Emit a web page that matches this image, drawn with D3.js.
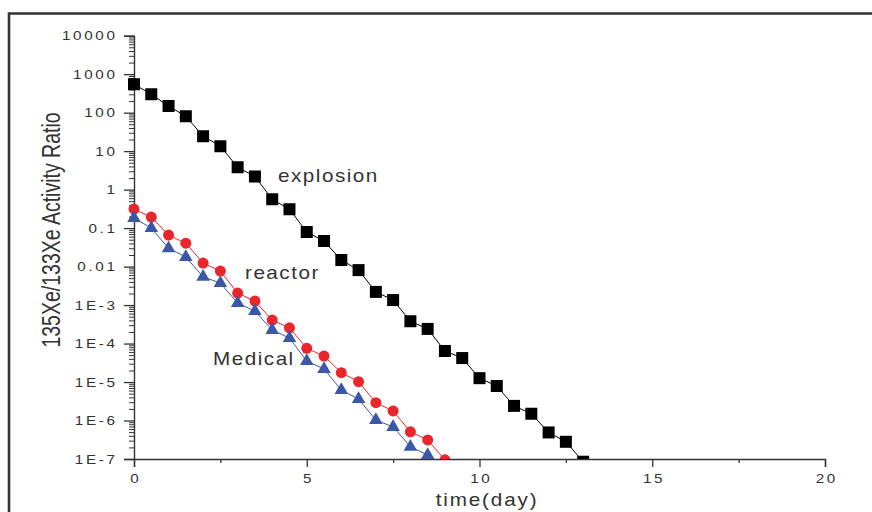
<!DOCTYPE html>
<html><head><meta charset="utf-8">
<script src="https://cdn.jsdelivr.net/npm/d3@7"></script>
<style>
html,body{margin:0;padding:0;background:#fff;}
svg{display:block;}
text{font-family:"Liberation Sans",Arial,sans-serif;fill:#333;}
</style></head>
<body>
<script>
// ---- data ----
const explosionTimes = d3.range(0, 13.01, 0.5);
const explosionValues = [550, 300, 148, 81, 24.5, 13.5, 3.8, 2.2, 0.56, 0.31, 0.079, 0.046, 0.0148, 0.0081, 0.0022, 0.00135, 3.8e-4, 2.4e-4, 6.4e-5, 4.2e-5, 1.26e-5, 7.9e-6, 2.4e-6, 1.5e-6, 4.9e-7, 2.8e-7, 8.5e-8];
const reactorTimes = d3.range(0, 9.01, 0.5);
const reactorValues = [0.312, 0.193, 0.0658, 0.0407, 0.01233, 0.00764, 0.00205, 0.00127, 4.07e-4, 2.57e-4, 7.5e-5, 4.73e-5, 1.75e-5, 1.02e-5, 2.9e-6, 1.77e-6, 5.1e-7, 3.12e-7, 9.5e-8];
const medicalTimes = d3.range(0, 8.51, 0.5);
const medicalValues = [0.182, 0.1, 0.030, 0.0177, 0.00543, 0.00372, 0.00113, 6.98e-4, 2.24e-4, 1.39e-4, 3.5e-5, 2.18e-5, 6.2e-6, 3.6e-6, 1.03e-6, 6.8e-7, 2.08e-7, 1.27e-7];
const yTickValues = [1e4, 1e3, 100, 10, 1, 0.1, 0.01, 1e-3, 1e-4, 1e-5, 1e-6, 1e-7];
const yTickLabels = ["10000", "1000", "100", "10", "1", "0.1", "0.01", "1E-3", "1E-4", "1E-5", "1E-6", "1E-7"];
const xTickValues = [0, 5, 10, 15, 20];
const xTickLabels = ["0", "5", "10", "15", "20"];
const xMinorTicks = [2.5, 7.5, 12.5, 17.5];
const seriesLabels = ["explosion", "reactor", "Medical"];
const xTitle = "time(day)";
const yTitle = "135Xe/133Xe Activity Ratio";

// ---- layout ----
const W = 872, H = 512;
const L = 134, R = 825, T = 35.7, B = 459;
const SX_TICK = 1.22, LS_TICK = 2.2;
const SX_TITLE = 1.15, LS_TITLE = 1.3;

const svg = d3.select("body").append("svg").attr("width", W).attr("height", H);

// frame
svg.append("path").attr("d", `M9,${H+10} V13.5 H${W+10}`)
  .attr("fill", "none").attr("stroke", "#333").attr("stroke-width", 2.6);

const x = d3.scaleLinear().domain([0, 20]).range([L, R]);
const y = d3.scaleLog().domain([1e-7, 1e4]).range([B, T]);

// minor y ticks
const yMinor = [];
for (let e = -7; e < 4; e++) for (let k = 2; k <= 9; k++) yMinor.push(k * Math.pow(10, e));

const axisColor = "#333";
const gyMinor = svg.append("g").attr("transform", `translate(${L},0)`)
  .call(d3.axisLeft(y).tickValues(yMinor).tickSize(5).tickFormat(""));
gyMinor.select(".domain").remove();
gyMinor.selectAll("line").attr("stroke", axisColor).attr("stroke-width", 1);

const gy = svg.append("g").attr("transform", `translate(${L},0)`)
  .call(d3.axisLeft(y).tickValues(yTickValues).tickSize(10).tickPadding(9)
    .tickFormat((d, i) => yTickLabels[i]));
gy.select(".domain").attr("stroke", axisColor).attr("stroke-width", 1.4);
gy.selectAll("line").attr("stroke", axisColor).attr("stroke-width", 1.3);
gy.selectAll("text").attr("font-size", 12.5).attr("fill", "#333")
  .attr("font-family", "Liberation Sans, Arial, sans-serif")
  .attr("letter-spacing", LS_TICK)
  .attr("x", -19 / SX_TICK + LS_TICK).attr("transform", `scale(${SX_TICK},1)`);

const gxMinor = svg.append("g").attr("transform", `translate(0,${B})`)
  .call(d3.axisBottom(x).tickValues(xMinorTicks).tickSize(4).tickFormat(""));
gxMinor.select(".domain").remove();
gxMinor.selectAll("line").attr("stroke", axisColor).attr("stroke-width", 1.3);

const gx = svg.append("g").attr("transform", `translate(0,${B})`)
  .call(d3.axisBottom(x).tickValues(xTickValues).tickSize(8).tickPadding(7)
    .tickFormat((d, i) => xTickLabels[i]));
gx.select(".domain").attr("stroke", axisColor).attr("stroke-width", 1.4);
gx.selectAll("line").attr("stroke", axisColor).attr("stroke-width", 1.3);
gx.selectAll("text").attr("font-size", 12.5).attr("fill", "#333")
  .attr("font-family", "Liberation Sans, Arial, sans-serif")
  .attr("letter-spacing", LS_TICK).attr("x", LS_TICK / 2)
  .attr("transform", `scale(${SX_TICK},1)`);

// clip
svg.append("clipPath").attr("id", "clip").append("rect")
  .attr("x", L - 8).attr("y", T - 10).attr("width", R - L + 16).attr("height", B - T + 10);
const plot = svg.append("g").attr("clip-path", "url(#clip)");

const line = d3.line().x(d => x(d[0])).y(d => y(d[1]));

function drawSeries(times, values, color, symbol, size, lw) {
  const pts = times.map((t, i) => [t, values[i]]);
  plot.append("path").datum(pts).attr("d", line)
    .attr("fill", "none").attr("stroke", color).attr("stroke-width", lw);
  plot.selectAll(null).data(pts).enter().append("path")
    .attr("d", d3.symbol().type(symbol).size(size))
    .attr("transform", d => `translate(${x(d[0])},${y(d[1])})`)
    .attr("fill", color);
}
drawSeries(reactorTimes, reactorValues, "#e8262b", d3.symbolCircle, 95, 1);
drawSeries(medicalTimes, medicalValues, "#3b58a8", d3.symbolTriangle, 80, 1);
drawSeries(explosionTimes, explosionValues, "#000", d3.symbolSquare, 144, 1);

// series labels
function stretchedText(txt, px, py, fs, sx, ls, anchor) {
  svg.append("text").text(txt).attr("font-size", fs)
    .attr("letter-spacing", ls)
    .attr("text-anchor", anchor || "start")
    .attr("transform", `translate(${px},${py}) scale(${sx},1)`);
}
stretchedText(seriesLabels[0], 278, 182, 18, SX_TITLE, LS_TITLE);
stretchedText(seriesLabels[1], 245, 279, 18, SX_TITLE, LS_TITLE);
stretchedText(seriesLabels[2], 213, 365, 18, SX_TITLE, LS_TITLE);

// axis titles
stretchedText(xTitle, 487, 506, 18, SX_TITLE, 1.6, "middle");
svg.append("text").text(yTitle).attr("font-size", 19.5).attr("text-anchor", "middle")
  .attr("transform", `translate(59.5,230) scale(1.3,1) rotate(-90)`);
</script>
</body></html>
